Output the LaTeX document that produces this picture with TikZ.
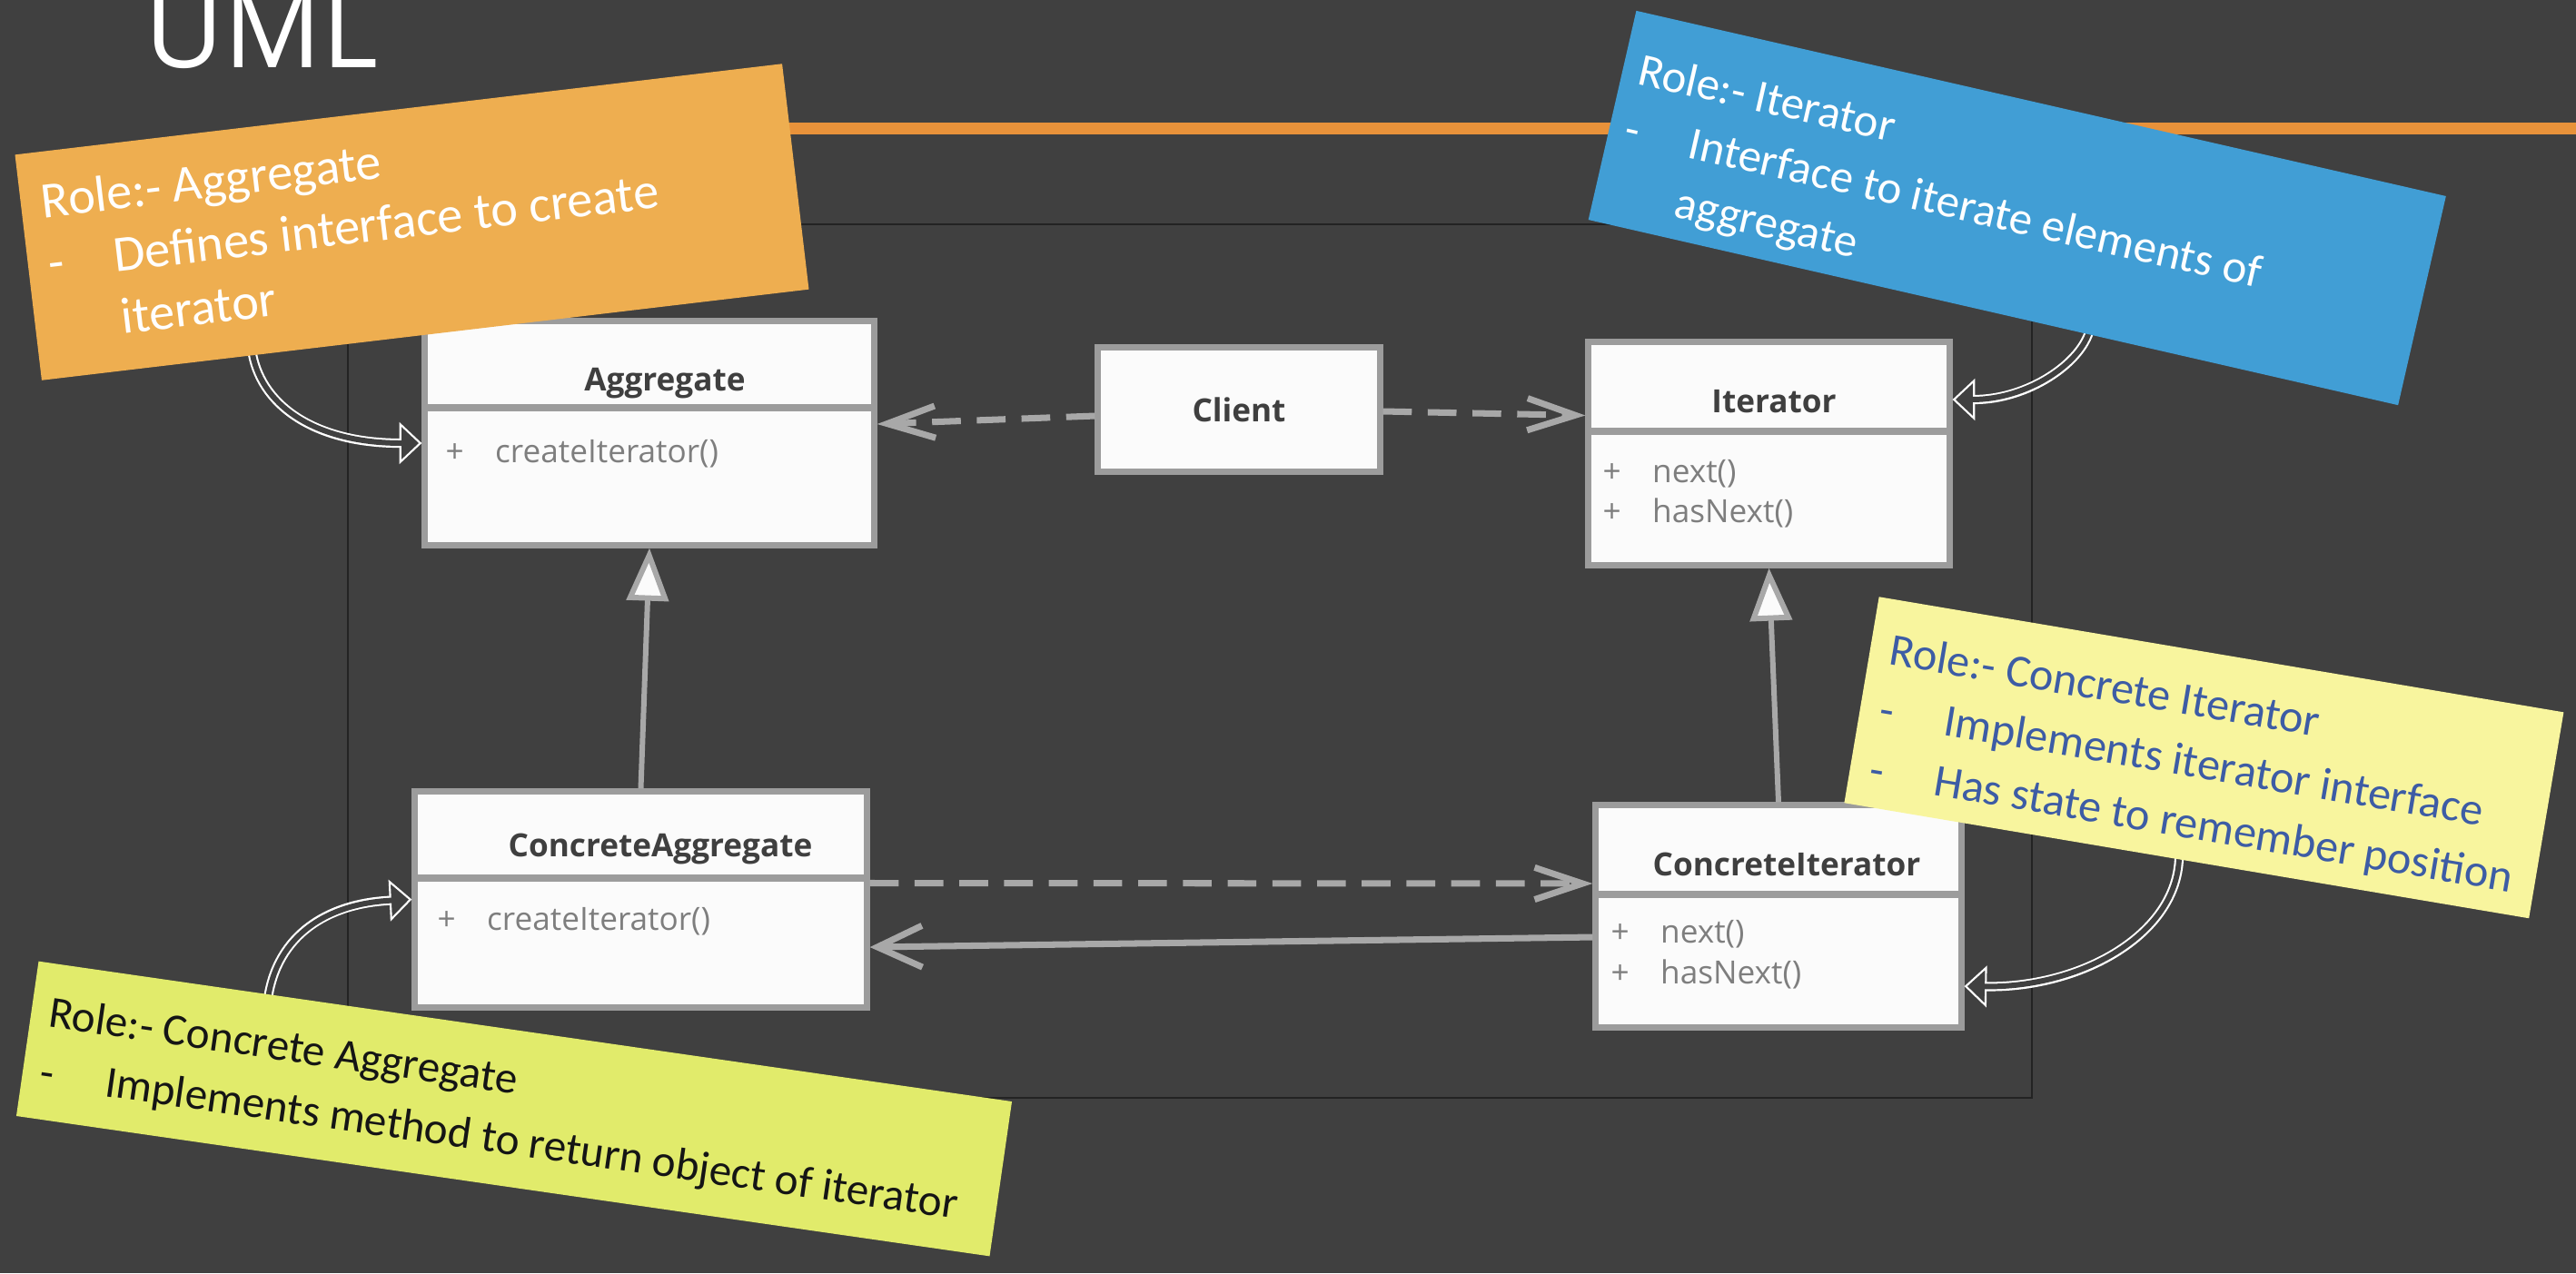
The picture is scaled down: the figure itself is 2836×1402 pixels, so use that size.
\documentclass[tikz,border=0pt]{standalone}
\usepackage{fontspec}
\setmainfont{Open Sans}
\newfontfamily\handfont{Carlito}
\usetikzlibrary{arrows.meta}
\definecolor{bgc}{HTML}{404040}
\definecolor{boxline}{HTML}{9C9C9C}
\definecolor{boxfill}{HTML}{FBFBFB}
\definecolor{titlec}{HTML}{3F3F3F}
\definecolor{methc}{HTML}{7E7E7E}
\definecolor{connc}{HTML}{A8A8A8}
\definecolor{framec}{HTML}{232323}
\definecolor{orangeline}{HTML}{E8923A}
\definecolor{noteorange}{HTML}{EEAE50}
\definecolor{noteblue}{HTML}{419ED5}
\definecolor{noteyellow}{HTML}{F8F59E}
\definecolor{notegreen}{HTML}{E1EB6B}
\definecolor{textblue}{HTML}{3D5CA5}
\definecolor{textblack}{HTML}{151515}
\begin{document}
\begin{tikzpicture}[x=0.01cm, y=-0.01cm,
  umlbox/.style={draw=boxline, line width=2pt, fill=boxfill, inner sep=0pt},
  divider/.style={draw=boxline, line width=2pt},
  umltitle/.style={font=\bfseries\fontsize{10}{12}\selectfont, text=titlec, inner sep=0pt},
  umlmeth/.style={font=\fontsize{10}{12}\selectfont, text=methc, inner sep=0pt, anchor=west},
  dep/.style={draw=connc, line width=2pt, dash pattern=on 9pt off 5pt, -{Straight Barb[length=15pt,width=10pt]}},
  assoc/.style={draw=connc, line width=2pt, -{Straight Barb[length=14pt,width=13pt]}},
  gen/.style={draw=connc, line width=1.7pt, -{Triangle[fill=boxfill, length=16.5pt, width=13pt]}},
  handout/.style={draw=white, line width=2.9pt, -{Triangle[fill=bgc, line width=0.6pt, length=7pt, width=13pt]}},
  handin/.style={draw=bgc, line width=1.7pt, shorten >=6.2pt},
  notebox/.style={inner sep=0pt, rectangle},
  notetext/.style={align=left, anchor=north west, inner sep=0pt},
]
\useasboundingbox (0,0) rectangle (2836,1402);
\fill[bgc] (0,0) rectangle (2836,1402);
\clip (0,0) rectangle (2836,1402);

% title
\node[anchor=base west, inner sep=0pt, text=white, font=\fontsize{34}{40}\selectfont] (umlTitle) at (159,74) {UML};

% orange rule and frame
\draw[orangeline, line width=3.7pt] (800,141) -- (2836,141);
\draw[framec, line width=0.8pt] (383,247) rectangle (2237,1209);

% Aggregate
\node[umlbox, minimum width=4.94cm, minimum height=2.46cm] (agg) at (715,477) {};
\draw[divider] ([yshift=-0.985cm]agg.north west) -- ([yshift=-0.985cm]agg.north east);
\node[umltitle] (aggT) at (732,422) {Aggregate};
\node[umlmeth] (aggM) at (490,500) {\makebox[15.5pt][l]{+}createIterator()};

% Client
\node[umlbox, umltitle, draw=boxline, minimum width=3.10cm, minimum height=1.36cm] (client) at (1364,451) {Client};

% Iterator
\node[umlbox, minimum width=3.97cm, minimum height=2.45cm] (iter) at (1947.5,499.5) {};
\draw[divider] ([yshift=-1.015cm]iter.north west) -- ([yshift=-1.015cm]iter.north east);
\node[umltitle] (iterT) at (1953,442) {Iterator};
\node[umlmeth] (iterM1) at (1764,522) {\makebox[15.5pt][l]{+}next()};
\node[umlmeth] (iterM2) at (1764,565) {\makebox[15.5pt][l]{+}hasNext()};

% ConcreteAggregate
\node[umlbox, minimum width=4.97cm, minimum height=2.37cm] (cagg) at (705.5,990.5) {};
\draw[divider] ([yshift=-0.985cm]cagg.north west) -- ([yshift=-0.985cm]cagg.north east);
\node[umltitle] (caggT) at (727,935) {ConcreteAggregate};
\node[umlmeth] (caggM) at (481,1015) {\makebox[15.5pt][l]{+}createIterator()};

% ConcreteIterator
\node[umlbox, minimum width=4.02cm, minimum height=2.44cm] (cit) at (1958,1009) {};
\draw[divider] ([yshift=-1.015cm]cit.north west) -- ([yshift=-1.015cm]cit.north east);
\node[umltitle] (citT) at (1967,952) {ConcreteIterator};
\node[umlmeth] (citM1) at (1773,1029) {\makebox[15.5pt][l]{+}next()};
\node[umlmeth] (citM2) at (1773,1073) {\makebox[15.5pt][l]{+}hasNext()};

% connectors
\draw[dep] ([yshift=-0.07cm]client.west) -- ([yshift=0.1cm]agg.east);
\draw[dep] ([yshift=-0.02cm]client.east) -- ([yshift=0.42cm]iter.west);
\draw[gen] (cagg.north) -- (agg.south);
\draw[gen] (cit.north) -- (iter.south);
\draw[dep] ([yshift=0.18cm]cagg.east) -- ([yshift=0.36cm]cit.west);
\draw[assoc] ([yshift=-0.23cm]cit.west) -- ([yshift=-0.525cm]cagg.east);

% hand-drawn note arrows
\coordinate (oA) at (277,384);
\coordinate (oB) at (2301,362);
\coordinate (oC) at (2399,945);
\coordinate (oD) at (295,1100);
\draw[handout] (oA) .. controls (285,445) and (345,488) .. ([yshift=-0.11cm]agg.west);
\draw[handin]  (oA) .. controls (285,445) and (345,488) .. ([yshift=-0.11cm]agg.west);
\draw[handout] (oB) .. controls (2292,400) and (2232,440) .. ([yshift=0.595cm]iter.east);
\draw[handin]  (oB) .. controls (2292,400) and (2232,440) .. ([yshift=0.595cm]iter.east);
\draw[handout] (oC) .. controls (2396,1030) and (2290,1088) .. ([yshift=-0.77cm]cit.east);
\draw[handin]  (oC) .. controls (2396,1030) and (2290,1088) .. ([yshift=-0.77cm]cit.east);
\draw[handout] (oD) .. controls (305,1030) and (360,995) .. (cagg.west);
\draw[handin]  (oD) .. controls (305,1030) and (360,995) .. (cagg.west);

% notes
\begin{scope}[shift={(453.5,244.5)}, rotate=6.76, transform shape]
  \node[notebox, fill=noteorange, minimum width=8.5cm, minimum height=2.5cm] (nAgg) at (0,0) {};
  \node[notetext, text=white, font=\handfont\fontsize{16}{19.5}\selectfont] (tAgg) at (-403,-92) {Role:- Aggregate\\\makebox[20.5pt][l]{-}Defines interface to create\\\hspace*{20.5pt}iterator};
\end{scope}
\begin{scope}[shift={(2220.75,229)}, rotate=-12.9, transform shape]
  \node[notebox, fill=noteblue, minimum width=9.14cm, minimum height=2.36cm] (nIter) at (0,0) {};
  \node[notetext, text=white, font=\handfont\fontsize{14.5}{19}\selectfont] (tIter) at (-440,-76) {Role:- Iterator\\\makebox[20.5pt][l]{-}Interface to iterate elements of\\\hspace*{20.5pt}aggregate};
\end{scope}
\begin{scope}[shift={(2426.4,834.25)}, rotate=-9.57, transform shape]
  \node[notebox, fill=noteyellow, minimum width=7.64cm, minimum height=2.3cm] (nCit) at (0,0) {};
  \node[notetext, text=textblue, font=\handfont\fontsize{14.3}{19}\selectfont] (tCit) at (-361,-79) {Role:- Concrete Iterator\\\makebox[20.5pt][l]{-}Implements iterator interface\\\makebox[20.5pt][l]{-}Has state to remember position};
\end{scope}
\begin{scope}[shift={(566,1221)}, rotate=-8.2, transform shape]
  \node[notebox, fill=notegreen, minimum width=10.82cm, minimum height=1.72cm] (nCagg) at (0,0) {};
  \node[notetext, text=textblack, font=\handfont\fontsize{14}{19}\selectfont] (tCagg) at (-522,-51) {Role:- Concrete Aggregate\\\makebox[20.5pt][l]{-}Implements method to return object of iterator};
\end{scope}
\end{tikzpicture}
\end{document}
